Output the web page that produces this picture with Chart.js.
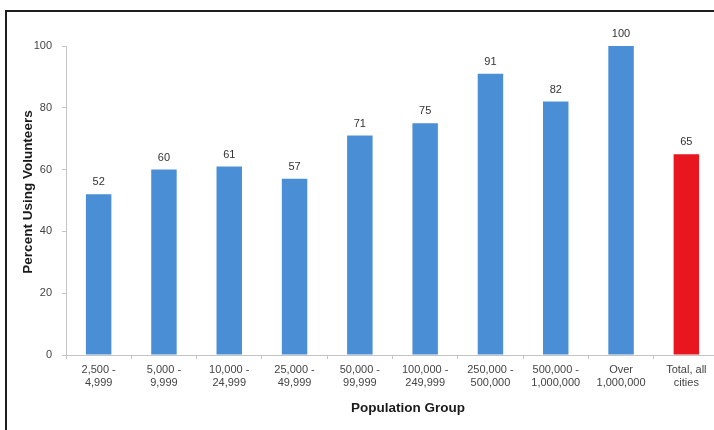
<!DOCTYPE html>
<html>
<head>
<meta charset="utf-8">
<script src="https://cdn.jsdelivr.net/npm/chart.js@4/dist/chart.umd.min.js"></script>
<style>
  html, body { margin: 0; padding: 0; background: #fff; overflow: hidden; width: 714px; height: 430px; }
  #frame { position: absolute; left: 5px; top: 10px; width: 760px; height: 460px; border: 2px solid #1e1e1e; box-sizing: border-box; }
  #c { position: absolute; left: 0; top: 0; }
</style>
</head>
<body>
<div id="frame"></div>
<canvas id="c" width="730" height="430"></canvas>
<script>
// Population groups (two-line tick labels)
const categories = [
  ["2,500 -", "4,999"],
  ["5,000 -", "9,999"],
  ["10,000 -", "24,999"],
  ["25,000 -", "49,999"],
  ["50,000 -", "99,999"],
  ["100,000 -", "249,999"],
  ["250,000 -", "500,000"],
  ["500,000 -", "1,000,000"],
  ["Over", "1,000,000"],
  ["Total, all", "cities"]
];
// Percent of cities using volunteers
const percentUsing = [52, 60, 61, 57, 71, 75, 91, 82, 100, 65];
const yTicks = [0, 20, 40, 60, 80, 100];

const barColors = percentUsing.map((v, i) => i === percentUsing.length - 1 ? '#e8161e' : '#4a8fd6');

// Value labels above bars and the axis titles
const annotate = {
  id: 'annotate',
  afterDatasetsDraw(chart) {
    const ctx = chart.ctx;
    const meta = chart.getDatasetMeta(0);
    ctx.save();
    ctx.fillStyle = '#333';
    ctx.font = '11px "Liberation Sans", Arial, sans-serif';
    ctx.textAlign = 'center';
    ctx.textBaseline = 'middle';
    meta.data.forEach((bar, i) => {
      ctx.fillText(String(percentUsing[i]), bar.x, bar.y - 12);
    });
    ctx.fillStyle = '#1a1a1a';
    ctx.font = 'bold 13.5px "Liberation Sans", Arial, sans-serif';
    ctx.fillText('Population Group', 408, 408);
    ctx.translate(28, 192);
    ctx.rotate(-Math.PI / 2);
    ctx.fillText('Percent Using Volunteers', 0, 0);
    ctx.restore();
  }
};

new Chart(document.getElementById('c'), {
  type: 'bar',
  data: {
    labels: categories,
    datasets: [{
      data: percentUsing,
      backgroundColor: barColors,
      borderWidth: 0,
      barPercentage: 0.39,
      categoryPercentage: 1
    }]
  },
  options: {
    responsive: false,
    animation: false,
    events: [],
    layout: { padding: { top: 46, right: 11, bottom: 0, left: 0 } },
    plugins: { legend: { display: false }, tooltip: { enabled: false } },
    scales: {
      x: {
        afterFit(s) { s.height = 75; },
        border: { color: '#c4c4c4', width: 1 },
        grid: { drawOnChartArea: false, drawTicks: true, tickLength: 4, color: '#c4c4c4', offset: true },
        ticks: {
          color: '#444',
          font: { family: '"Liberation Sans", Arial, sans-serif', size: 11, lineHeight: 1.18 },
          padding: 4,
          maxRotation: 0,
          autoSkip: false
        }
      },
      y: {
        min: 0,
        max: 100,
        afterFit(s) { s.width = 66; },
        afterBuildTicks(s) { s.ticks = yTicks.map(v => ({ value: v })); },
        border: { color: '#c4c4c4', width: 1 },
        grid: { drawOnChartArea: false, drawTicks: true, tickLength: 4, color: '#c4c4c4' },
        ticks: {
          color: '#444',
          font: { family: '"Liberation Sans", Arial, sans-serif', size: 11 },
          padding: 10
        }
      }
    }
  },
  plugins: [annotate]
});
</script>
</body>
</html>
